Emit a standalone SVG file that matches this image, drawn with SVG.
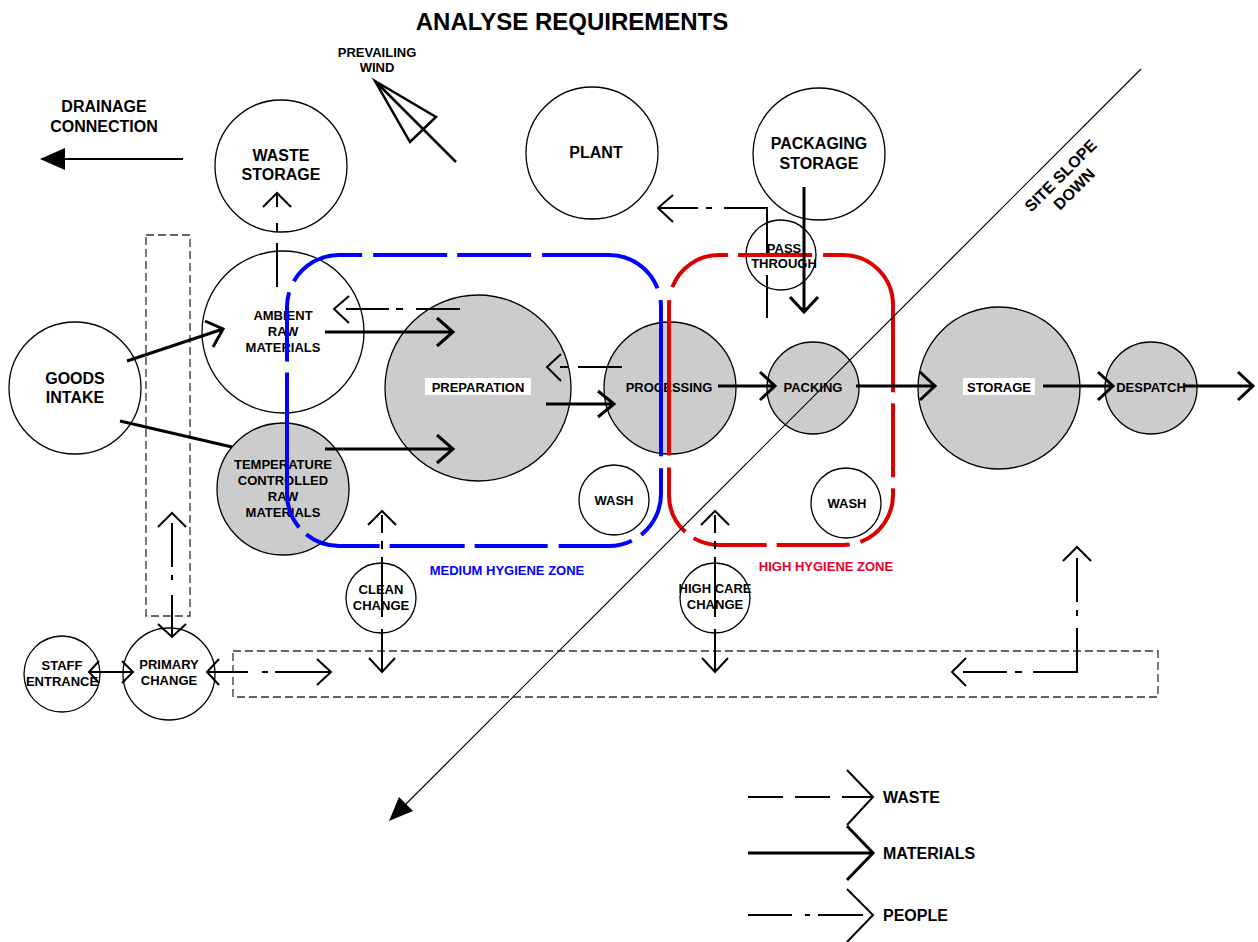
<svg xmlns="http://www.w3.org/2000/svg" width="1258" height="942" viewBox="0 0 1258 942">
<defs>
<style>
text{font-family:"Liberation Sans",Arial,sans-serif;font-weight:bold;fill:#000;text-anchor:middle}
.n{stroke:#000;stroke-width:1.3;fill:#fff}
.g{fill:#cccccc}
.s13{font-size:13px}
.s16{font-size:16px}
.mat{stroke:#000;stroke-width:3;fill:none}
.thin{stroke:#000;stroke-width:2;fill:none}
.box{fill:none;stroke:#333;stroke-width:1.3;stroke-dasharray:8 4}
.zone{fill:none;stroke-width:4}
</style>
</defs>
<rect x="0" y="0" width="1258" height="942" fill="#fff"/>

<text x="572" y="30" style="font-size:24px">ANALYSE REQUIREMENTS</text>

<g id="drainage">
<text class="s16" x="104" y="112">DRAINAGE</text>
<text class="s16" x="104" y="131.7">CONNECTION</text>
<path d="M183,159 L62,159" stroke="#000" stroke-width="2"/>
<polygon points="40,159 65,148 65,170" fill="#000"/>
</g>

<g id="wind">
<text class="s13" x="377" y="56.5">PREVAILING</text>
<text class="s13" x="377" y="72">WIND</text>
<path d="M375,81 L456,162 M375,81 L436,117 L410,142 Z" stroke="#000" stroke-width="2.5" fill="none" stroke-linejoin="miter"/>
</g>

<g id="corridors">
<rect class="box" x="146" y="235" width="44" height="381"/>
<rect class="box" x="233" y="651" width="925" height="46"/>
</g>

<g id="waste-storage"><circle class="n" cx="281" cy="166" r="66"/><text class="s16" x="281" y="160.7">WASTE</text><text class="s16" x="281" y="179.7">STORAGE</text></g>
<g id="plant"><circle class="n" cx="592" cy="153" r="66"/><text class="s16" x="596" y="157.7">PLANT</text></g>
<g id="packaging-storage"><circle class="n" cx="819" cy="154" r="66"/><text class="s16" x="819" y="148.7">PACKAGING</text><text class="s16" x="819" y="168.7">STORAGE</text></g>
<g id="pass-through"><circle class="n" cx="781" cy="255" r="35"/><text class="s13" x="784" y="253">PASS</text><text class="s13" x="784" y="268">THROUGH</text></g>
<g id="goods-intake"><circle class="n" cx="75" cy="388" r="66"/><text class="s16" x="75" y="383.7">GOODS</text><text class="s16" x="75" y="402.7">INTAKE</text></g>
<g id="ambient"><circle class="n" cx="283" cy="332" r="81"/><text class="s13" x="283" y="319.7">AMBIENT</text><text class="s13" x="283" y="335.7">RAW</text><text class="s13" x="283" y="351.7">MATERIALS</text></g>
<g id="temperature"><circle class="n g" cx="283" cy="489" r="66"/><text class="s13" x="283" y="469">TEMPERATURE</text><text class="s13" x="283" y="485">CONTROLLED</text><text class="s13" x="283" y="501">RAW</text><text class="s13" x="283" y="517">MATERIALS</text></g>
<g id="preparation"><circle class="n g" cx="478" cy="388" r="93"/><rect x="425" y="378" width="106" height="17" fill="#fff"/><text class="s13" x="478" y="392">PREPARATION</text></g>
<g id="processing"><circle class="n g" cx="670" cy="388" r="66"/><text class="s13" x="669" y="392">PROCESSING</text></g>
<g id="packing"><circle class="n g" cx="813" cy="388" r="46"/><text class="s13" x="813" y="392">PACKING</text></g>
<g id="storage"><circle class="n g" cx="999" cy="388" r="81"/><rect x="963" y="378" width="72" height="17" fill="#fff"/><text class="s13" x="999" y="392">STORAGE</text></g>
<g id="despatch"><circle class="n g" cx="1151" cy="388" r="46"/><text class="s13" x="1151" y="392">DESPATCH</text></g>
<g id="wash-1"><circle class="n" cx="614" cy="500" r="35"/><text class="s13" x="614" y="504.7">WASH</text></g>
<g id="wash-2"><circle class="n" cx="846" cy="503" r="35"/><text class="s13" x="847" y="507.7">WASH</text></g>
<g id="clean-change"><circle class="n" cx="381" cy="598" r="35"/><text class="s13" x="381" y="594">CLEAN</text><text class="s13" x="381" y="610">CHANGE</text></g>
<g id="high-care-change"><circle class="n" cx="715" cy="598" r="35"/><text class="s13" x="715" y="593">HIGH CARE</text><text class="s13" x="715" y="609">CHANGE</text></g>
<g id="staff-entrance"><circle class="n" cx="62" cy="674" r="38"/><text class="s13" x="62" y="670">STAFF</text><text class="s13" x="62" y="686">ENTRANCE</text></g>
<g id="primary-change"><circle class="n" cx="169" cy="674" r="46"/><text class="s13" x="169" y="669">PRIMARY</text><text class="s13" x="169" y="685">CHANGE</text></g>

<g id="zone-medium">
<path class="zone" stroke="#0000ff" d="M287,307 A52,52 0 0 1 339,255 L609,255 A52,52 0 0 1 661,307 L661,494 A52,52 0 0 1 609,546 L339,546 A52,52 0 0 1 287,494 Z" stroke-dasharray="15 12 77.7 11 74 10 74 11 129.3 12 156.4 12 72.6 11 74 11 73 10 75 10 76 10 157.8 11 55"/>
<text class="s13" x="507" y="574.7" style="fill:#0000ff">MEDIUM HYGIENE ZONE</text>
</g>
<g id="zone-high">
<path class="zone" stroke="#dd0000" d="M669,305 A50,50 0 0 1 719,255 L843,255 A50,50 0 0 1 893,305 L893,495 A50,50 0 0 1 843,545 L719,545 A50,50 0 0 1 669,495 Z" stroke-dasharray="5 13.3 69.2 10 74 11 185.6 11 74 11 67.4 10.9 73.2 10 74.2 10.3 69.1 12 151 0"/>
<text class="s13" x="826" y="570.7" style="fill:#e8002a">HIGH HYGIENE ZONE</text>
</g>

<g id="connectors">
<g id="materials">
<path class="mat" d="M127,361 L223,329 M205,321 L223,329 L213,347"/>
<path class="mat" d="M120,421 L232,447"/>
<path class="mat" d="M325,332 L453,332 M437,318 L453,332 L437,346"/>
<path class="mat" d="M325,449 L453,449 M437,435 L453,449 L437,463"/>
<path class="mat" d="M546,404 L614,404 M598,391 L614,404 L598,417"/>
<path class="mat" d="M718,386 L775,386 M760,372 L775,386 L760,400"/>
<path class="mat" d="M856,386 L935,386 M920,372 L935,386 L920,400"/>
<path class="mat" d="M1043,386 L1113,386 M1098,372 L1113,386 L1098,400"/>
<path class="mat" d="M1183,386 L1253,386 M1238,372 L1253,386 L1238,400"/>
<path class="mat" d="M804,187 L804,312 M790,297 L804,312 L818,297"/>
</g>
<g id="waste">
<path class="thin" d="M277,287 L277,243 M277,232 L277,223 M277,207 L277,193 M263,207 L277,193 L291,207"/>
<path class="thin" d="M460,309 L416,309 M403,309 L396,309 M389,309 L346,309 M349,296 L334,309 L349,323"/>
<path class="thin" d="M622,367 L578,367 M568,367 L560,367 M561,354 L547,367 L561,381"/>
</g>
<g id="people">
<path class="thin" d="M767,318 L767,275 M767,253 L767,208 L724,208 M712,208 L706,208 M698,208 L658,208 M673,195 L658,208 L673,222"/>
<path class="thin" d="M172,523 L172,567 M172,575 L172,580 M172,595 L172,637 M158,527 L172,513 L186,527 M158,624 L172,637 L186,624"/>
<path class="thin" d="M89,672 L133,672 M99,661 L89,672 L99,683 M122,661 L133,672 L122,683"/>
<path class="thin" d="M207,672 L248,672 M262,672 L268,672 M275,672 L331,672 M219,659 L207,672 L219,685 M317,659 L331,672 L317,685"/>
<path class="thin" d="M382,515 L382,533 M382,541 L382,549 M382,557 L382,617 M382,629 L382,672 M368,525 L382,511 L396,525 M369,658 L382,672 L395,658"/>
<path class="thin" d="M715,515 L715,533 M715,541 L715,549 M715,557 L715,617 M715,629 L715,672 M701,525 L715,511 L729,525 M702,658 L715,672 L728,658"/>
<path class="thin" d="M1077,558 L1077,602 M1077,610 L1077,616 M1077,628 L1077,672 L1033,672 M1022,672 L1015,672 M1007,672 L963,672 M1063,561 L1077,547 L1091,561 M966,658 L952,672 L966,686"/>
</g>
</g>

<g id="site-slope">
<path d="M1141,69 L404,806" stroke="#000" stroke-width="1.2"/>
<polygon points="389,821 413,811 399,797" fill="#000"/>
<text transform="translate(1061,176) rotate(-45)" style="font-size:16px"><tspan x="0" y="5">SITE SLOPE</tspan><tspan x="0" y="24">DOWN</tspan></text>
</g>

<g id="legend">
<path class="thin" d="M748,797 L783,797 M795,797 L830,797 M842,797 L873,797 M847,770 L873,797 L847,825"/>
<path class="mat" d="M748,853 L873,853 M847,826 L873,853 L847,880"/>
<path class="thin" d="M748,915 L792,915 M805,915 L810,915 M818,915 L863,915 M847,889 L873,915 L847,942"/>
<text class="s16" x="883" y="802.7" style="text-anchor:start">WASTE</text>
<text class="s16" x="883" y="858.7" style="text-anchor:start">MATERIALS</text>
<text class="s16" x="883" y="920.7" style="text-anchor:start">PEOPLE</text>
</g>
</svg>
